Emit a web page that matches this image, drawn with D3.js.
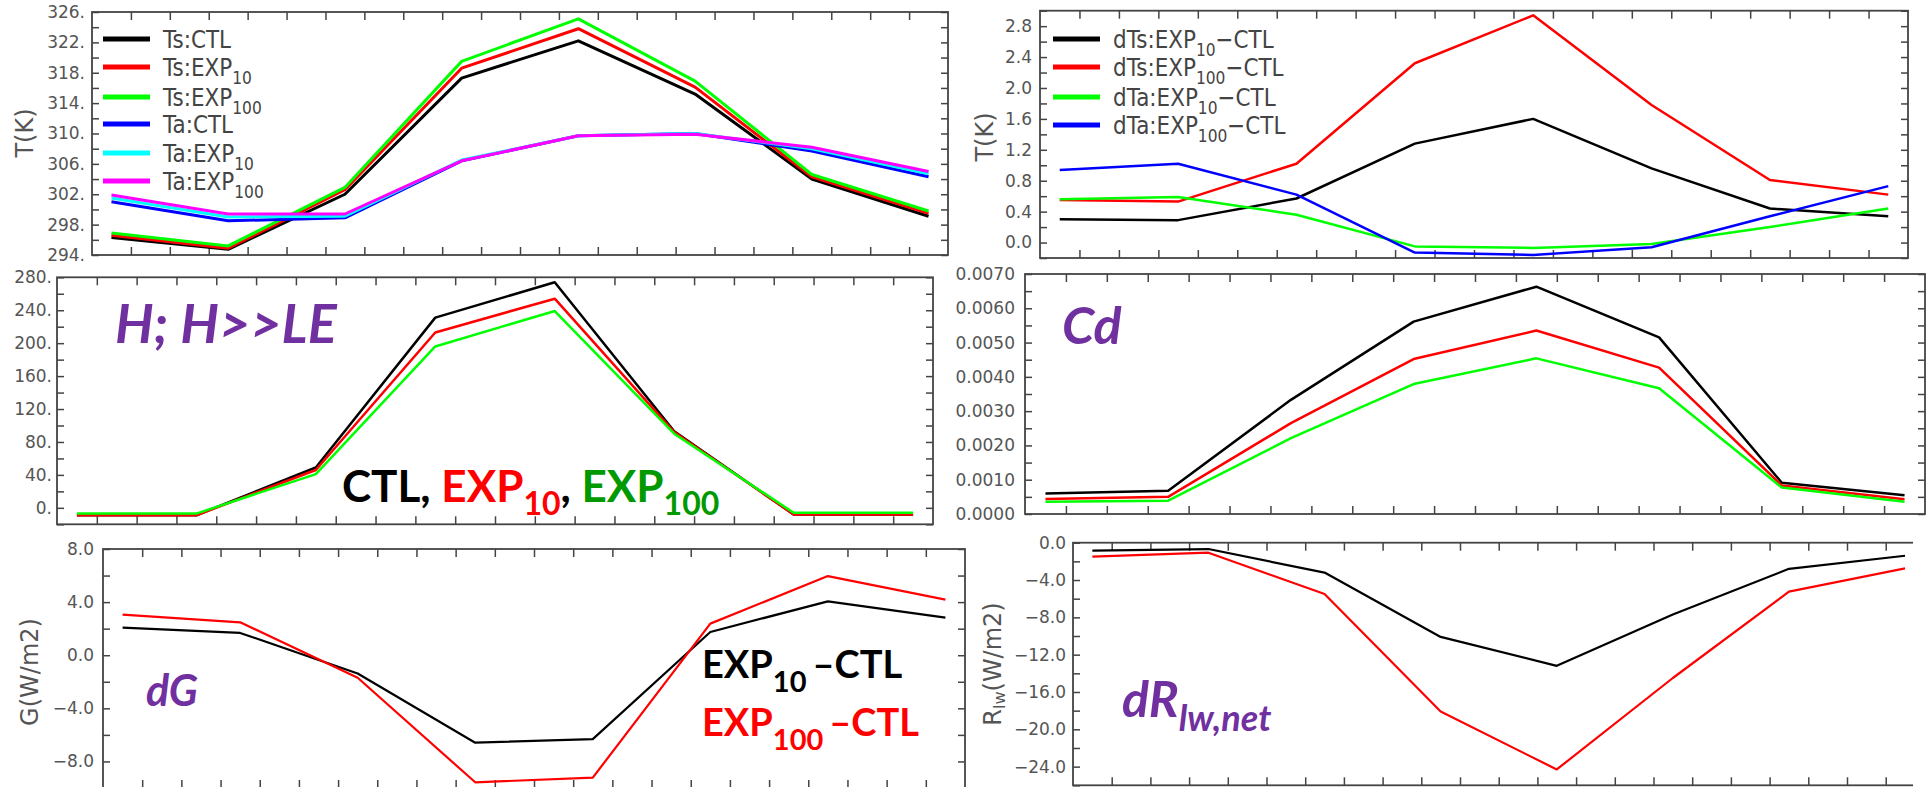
<!DOCTYPE html>
<html><head><meta charset="utf-8">
<script src="https://cdn.jsdelivr.net/npm/d3@7"></script>
<style>
body{margin:0;background:#fff;}
svg{display:block;}
</style></head><body>
<svg id="chart" width="1930" height="787"></svg>
<script>
// ---------- data ----------
const timeSteps = [0.5, 3.5, 6.5, 9.5, 12.5, 15.5, 18.5, 21.5];

// panel a: temperatures (K)
const tsCTL    = [296.3, 294.75, 302.0, 317.3, 322.2, 315.2, 304.0, 299.1];
const tsEXP10  = [296.6, 294.9, 302.6, 318.6, 323.8, 316.1, 304.3, 299.5];
const tsEXP100 = [296.9, 295.2, 302.9, 319.5, 325.1, 316.9, 304.6, 299.8];
const taCTL    = [301.0, 298.5, 298.9, 306.4, 309.7, 310.0, 307.7, 304.3];
const taEXP10  = [301.5, 299.0, 299.1, 306.5, 309.7, 310.0, 308.0, 304.7];
const taEXP100 = [301.9, 299.4, 299.4, 306.4, 309.7, 309.9, 308.2, 305.0];
const ticksA   = [294, 298, 302, 306, 310, 314, 318, 322, 326];

// panel b: temperature differences (K)
const dTsEXP10  = [0.30, 0.29, 0.57, 1.28, 1.60, 0.96, 0.44, 0.34];
const dTsEXP100 = [0.55, 0.53, 1.02, 2.32, 2.94, 1.78, 0.81, 0.62];
const dTaEXP10  = [0.56, 0.59, 0.36, -0.05, -0.07, -0.02, 0.20, 0.44];
const dTaEXP100 = [0.94, 1.02, 0.62, -0.13, -0.16, -0.06, 0.34, 0.73];
const ticksB    = [0.0, 0.4, 0.8, 1.2, 1.6, 2.0, 2.4, 2.8];

// panel c: sensible heat flux H
const hCTL    = [-9, -9, 49, 231, 274, 93, -8, -8];
const hEXP10  = [-9, -9, 46, 213, 254, 92, -8, -8];
const hEXP100 = [-7, -7, 41, 196, 239, 90, -6, -6];
const ticksC  = [0, 40, 80, 120, 160, 200, 240, 280];

// panel d: drag coefficient Cd
const cdCTL    = [0.00060, 0.00068, 0.00333, 0.00561, 0.00663, 0.00515, 0.00091, 0.00055];
const cdEXP10  = [0.00044, 0.00050, 0.00265, 0.00452, 0.00535, 0.00427, 0.00083, 0.00043];
const cdEXP100 = [0.00036, 0.00039, 0.00221, 0.00379, 0.00454, 0.00367, 0.00077, 0.00036];
const ticksD   = [0.0000, 0.0010, 0.0020, 0.0030, 0.0040, 0.0050, 0.0060, 0.0070];

// panel e: ground heat flux difference dG (W/m2)
const dGEXP10  = [2.08, 1.68, -1.38, -6.59, -6.32, 1.75, 4.06, 2.83];
const dGEXP100 = [3.06, 2.48, -1.70, -9.57, -9.22, 2.38, 5.96, 4.19];
const ticksE   = [-8, -4, 0, 4, 8];

// panel f: net longwave difference (W/m2)
const dRlwEXP10  = [-0.86, -0.68, -3.2, -10.1, -13.2, -7.7, -2.8, -1.4];
const dRlwEXP100 = [-1.5, -1.07, -5.5, -18.1, -24.3, -14.5, -5.25, -2.75];
const ticksF     = [-24, -20, -16, -12, -8, -4, 0];

const xTicks = d3.range(1, 22);

// ---------- drawing ----------
const svg = d3.select("#chart");
svg.append("rect").attr("width", 1930).attr("height", 787).attr("fill", "#fff");

const FRAME = "#444";
const LABEL = "#555";

function drawPanel(o) {
  const g = svg.append("g");
  if (o.clipRight) {
    const id = "clip" + Math.round(o.left);
    svg.append("clipPath").attr("id", id).append("rect")
      .attr("x", 0).attr("y", 0).attr("width", o.clipRight).attr("height", 787);
    g.attr("clip-path", `url(#${id})`);
  }
  const x = d3.scaleLinear().domain([0, 22]).range([o.left, o.left + o.width]);
  const y = d3.scaleLinear().domain(o.yDomain).range([o.top + o.height, o.top]);
  const right = o.left + o.width, bottom = o.top + o.height;
  const minor = d3.range(o.yDomain[0], o.yDomain[1] + o.minor * 0.01, o.minor);

  function style(sel) {
    sel.select(".domain").remove();
    sel.selectAll(".tick line").attr("stroke", FRAME).attr("stroke-width", 1.5);
    sel.selectAll(".tick text").attr("fill", LABEL)
      .attr("font-family", "DejaVu Sans, sans-serif").attr("font-size", 17);
  }
  g.append("g").attr("transform", `translate(${o.left},0)`)
    .call(d3.axisLeft(y).tickValues(minor).tickSize(-7).tickFormat("")).call(style);
  g.append("g").attr("transform", `translate(${o.left},0)`)
    .call(d3.axisLeft(y).tickValues(o.ticks).tickSize(0).tickPadding(o.pad).tickFormat(o.fmt)).call(style);
  g.append("g").attr("transform", `translate(${right},0)`)
    .call(d3.axisRight(y).tickValues(minor).tickSize(-7).tickFormat("")).call(style);
  g.append("g").attr("transform", `translate(0,${o.top})`)
    .call(d3.axisTop(x).tickValues(xTicks).tickSize(-8).tickFormat("")).call(style);
  g.append("g").attr("transform", `translate(0,${bottom})`)
    .call(d3.axisBottom(x).tickValues(xTicks).tickSize(-8).tickFormat("")).call(style);

  const line = d3.line().x((d, i) => x(timeSteps[i])).y(d => y(d));
  o.series.forEach(s => {
    g.append("path").datum(s.values).attr("d", line)
      .attr("fill", "none").attr("stroke", s.color).attr("stroke-width", o.lw)
      .attr("stroke-linejoin", "round");
  });

  g.append("rect").attr("x", o.left).attr("y", o.top).attr("width", o.width).attr("height", o.height)
    .attr("fill", "none").attr("stroke", FRAME).attr("stroke-width", 1.8);

  if (o.title) {
    const t = g.append("text")
      .attr("transform", `translate(${o.title.x},${o.title.y}) rotate(-90)`)
      .attr("text-anchor", "middle").attr("dominant-baseline", "central")
      .attr("fill", LABEL).attr("font-family", "DejaVu Sans, sans-serif").attr("font-size", 24);
    o.title.parts.forEach(p => {
      const ts = t.append("tspan").text(p.t);
      if (p.sub) ts.attr("font-size", 16).attr("dy", 6);
      if (p.up) ts.attr("dy", -6);
    });
  }

  if (o.legend) {
    o.legend.items.forEach((it, i) => {
      const ly = o.legend.ys[i];
      g.append("line").attr("x1", o.legend.x1).attr("x2", o.legend.x2)
        .attr("y1", ly).attr("y2", ly).attr("stroke", o.series[i].color).attr("stroke-width", 5);
      const t = g.append("text")
        .attr("transform", `translate(${o.legend.tx},${ly + 9}) scale(0.86,1)`)
        .attr("fill", "#444").attr("font-family", "DejaVu Sans, sans-serif").attr("font-size", 25);
      t.append("tspan").text(it[0]);
      if (it[1]) t.append("tspan").text(it[1]).attr("font-size", 18).attr("dy", 8);
      if (it[2]) t.append("tspan").text(it[2]).attr("dy", -8);
    });
  }
  return g;
}

const fmtDot = d => d + ".";

// panel a
drawPanel({
  left: 92, top: 12, width: 856, height: 243, yDomain: [294, 326], ticks: ticksA, minor: 2,
  fmt: fmtDot, pad: 7, lw: 3,
  series: [
    {values: tsCTL, color: "#000"}, {values: tsEXP10, color: "#f00"}, {values: tsEXP100, color: "#0f0"},
    {values: taCTL, color: "#00f"}, {values: taEXP10, color: "#0ff"}, {values: taEXP100, color: "#f0f"}
  ],
  title: {x: 25, y: 133, parts: [{t: "T(K)"}]},
  legend: {x1: 103, x2: 150, tx: 163, ys: [39, 67, 97, 124, 153, 181],
    items: [["Ts:CTL"], ["Ts:EXP", "10"], ["Ts:EXP", "100"], ["Ta:CTL"], ["Ta:EXP", "10"], ["Ta:EXP", "100"]]}
});

// panel b
drawPanel({
  left: 1040, top: 10.7, width: 868, height: 247.3, yDomain: [-0.2, 3.0], ticks: ticksB, minor: 0.2,
  fmt: d3.format(".1f"), pad: 8, lw: 2.5,
  series: [
    {values: dTsEXP10, color: "#000"}, {values: dTsEXP100, color: "#f00"},
    {values: dTaEXP10, color: "#0f0"}, {values: dTaEXP100, color: "#00f"}
  ],
  title: {x: 985, y: 137, parts: [{t: "T(K)"}]},
  legend: {x1: 1053, x2: 1100, tx: 1113, ys: [39, 67, 97, 125],
    items: [["dTs:EXP", "10", "\u2212CTL"], ["dTs:EXP", "100", "\u2212CTL"], ["dTa:EXP", "10", "\u2212CTL"], ["dTa:EXP", "100", "\u2212CTL"]]}
});

// panel c
drawPanel({
  left: 57, top: 277.3, width: 876, height: 247, yDomain: [-20, 280], ticks: ticksC, minor: 20,
  fmt: fmtDot, pad: 5, lw: 2.5,
  series: [{values: hCTL, color: "#000"}, {values: hEXP10, color: "#f00"}, {values: hEXP100, color: "#0f0"}]
});

// panel d
drawPanel({
  left: 1025, top: 274, width: 900, height: 240, yDomain: [0, 0.007], ticks: ticksD, minor: 0.0005,
  fmt: d3.format(".4f"), pad: 10, lw: 2.5,
  series: [{values: cdCTL, color: "#000"}, {values: cdEXP10, color: "#f00"}, {values: cdEXP100, color: "#0f0"}]
});

// panel e
drawPanel({
  left: 103, top: 549, width: 862, height: 239, yDomain: [-10, 8], ticks: ticksE, minor: 2,
  fmt: d3.format(".1f"), pad: 9, lw: 2.2,
  series: [{values: dGEXP10, color: "#000"}, {values: dGEXP100, color: "#f00"}],
  title: {x: 30, y: 672, parts: [{t: "G(W/m2)"}]}
});

// panel f
drawPanel({
  left: 1073, top: 542.7, width: 851.4, height: 242.6, yDomain: [-26, 0], ticks: ticksF, minor: 2,
  fmt: d3.format(".1f"), pad: 7, lw: 2.2, clipRight: 1913,
  series: [{values: dRlwEXP10, color: "#000"}, {values: dRlwEXP100, color: "#f00"}],
  title: {x: 993, y: 664, parts: [{t: "R"}, {t: "lw", sub: true}, {t: "(W/m2)", up: true}]}
});

// ---------- annotations ----------
const PURPLE = "#7030A0";
function note(x, y, size, parts, italic) {
  const t = svg.append("text").attr("x", x).attr("y", y)
    .attr("font-family", "Lato, 'Open Sans', sans-serif").attr("font-weight", "bold")
    .attr("font-style", italic ? "italic" : "normal").attr("font-size", size);
  parts.forEach(p => {
    const ts = t.append("tspan").text(p.t).attr("fill", p.c);
    if (p.s) ts.attr("font-size", p.s);
    if (p.dy) ts.attr("dy", p.dy);
    if (p.dx) ts.attr("dx", p.dx);
  });
}
note(115, 343, 54, [{t: "H; H>>LE", c: PURPLE}], true);
note(1062, 344, 52, [{t: "Cd", c: PURPLE}], true);
note(146, 706, 43, [{t: "dG", c: PURPLE}], true);
note(1122, 717, 50, [{t: "dR", c: PURPLE}, {t: "lw,net", c: PURPLE, s: 36, dy: 14}], true);
note(342, 502, 44, [
  {t: "CTL, ", c: "#000"}, {t: "EXP", c: "#f00"}, {t: "10", c: "#f00", s: 32, dy: 13},
  {t: ", ", c: "#000", dy: -13}, {t: "EXP", c: "#009900"}, {t: "100", c: "#009900", s: 32, dy: 13}
], false);
note(702, 678, 38, [{t: "EXP", c: "#000"}, {t: "10", c: "#000", s: 29, dy: 14}, {t: "\u2013CTL", c: "#000", dy: -14, dx: 6}], false);
note(702, 736, 38, [{t: "EXP", c: "#f00"}, {t: "100", c: "#f00", s: 29, dy: 14}, {t: "\u2013CTL", c: "#f00", dy: -14, dx: 6}], false);
</script>
</body></html>
